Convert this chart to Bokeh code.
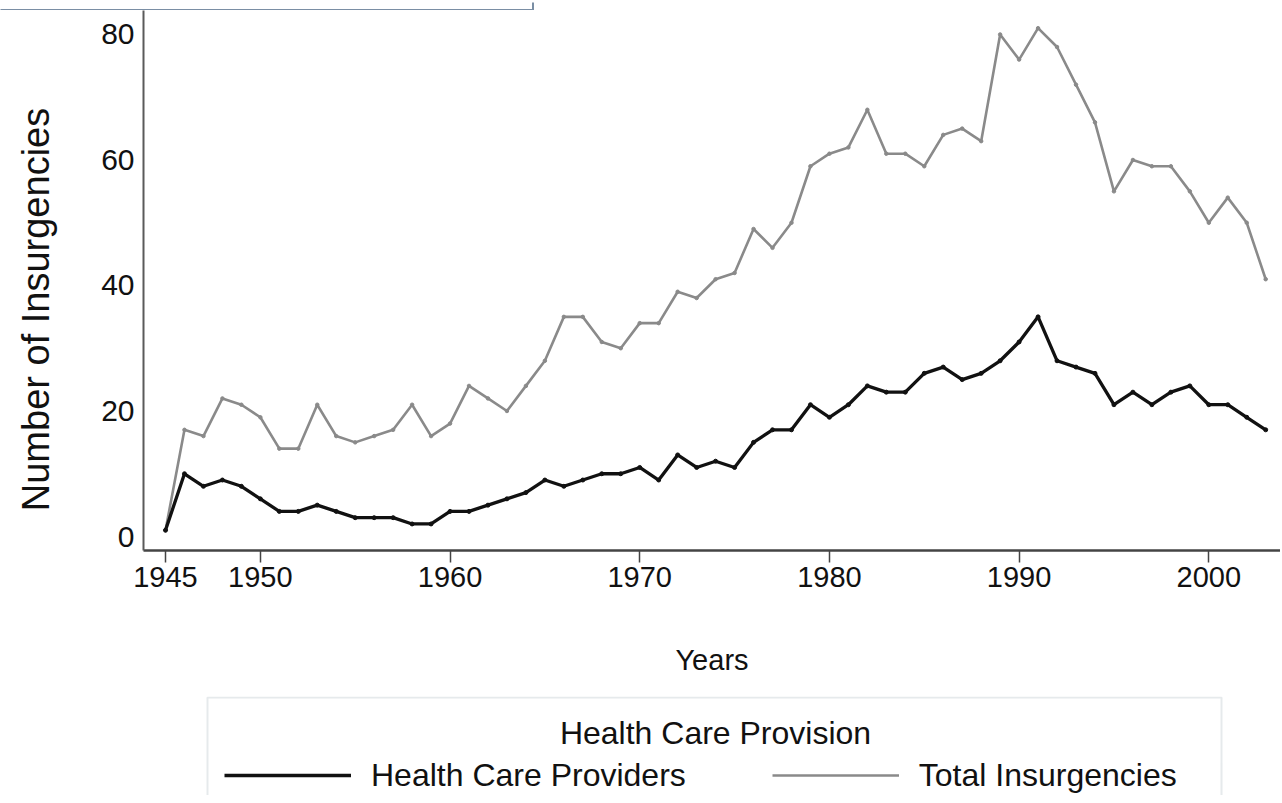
import math
from bokeh.plotting import figure
from bokeh.models import Range1d, FixedTicker, Legend, LegendItem, Label, BoxAnnotation
from bokeh.layouts import column, row
from bokeh.embed import file_html
from bokeh.resources import INLINE

years = list(range(1945, 2004))
total_insurgencies = [1, 17, 16, 22, 21, 19, 14, 14, 21, 16,
                      15, 16, 17, 21, 16, 18, 24, 22, 20, 24,
                      28, 35, 35, 31, 30, 34, 34, 39, 38, 41,
                      42, 49, 46, 50, 59, 61, 62, 68, 61, 61,
                      59, 64, 65, 63, 80, 76, 81, 78, 72, 66,
                      55, 60, 59, 59, 55, 50, 54, 50, 41]
health_care_providers = [1, 10, 8, 9, 8, 6, 4, 4, 5, 4,
                         3, 3, 3, 2, 2, 4, 4, 5, 6, 7,
                         9, 8, 9, 10, 10, 11, 9, 13, 11, 12,
                         11, 15, 17, 17, 21, 19, 21, 24, 23, 23,
                         26, 27, 25, 26, 28, 31, 35, 28, 27, 26,
                         21, 23, 21, 23, 24, 21, 21, 19, 17]
x_ticks = [1945, 1950, 1960, 1970, 1980, 1990, 2000]
y_ticks = [0, 20, 40, 60, 80]
x_title = "Years"
y_title = "Number of Insurgencies"
legend_title = "Health Care Provision"
series_names = ["Health Care Providers", "Total Insurgencies"]

FONT = "Liberation Sans"
GREY = "#8a8a8a"
BLACK = "#111111"
TXT = "#111111"


def blank(width, height):
    f = figure(width=width, height=height, output_backend="svg", toolbar_location=None,
               x_range=Range1d(0, width), y_range=Range1d(0, height),
               x_axis_type=None, y_axis_type=None,
               min_border=0, min_border_left=0, min_border_right=0,
               min_border_top=0, min_border_bottom=0)
    f.outline_line_color = None
    f.grid.visible = False
    return f


# strip at the top: bottom/right edge of a cropped box on the source page
top = blank(1280, 10)
top.add_layout(BoxAnnotation(left=-20, right=532.5, top=40, bottom=2.5,
                             left_units="screen", right_units="screen",
                             top_units="screen", bottom_units="screen",
                             fill_alpha=0, line_color="#7a8ea4", line_alpha=1.0,
                             line_width=2))

# y-axis title column (its frame is aligned with the main chart frame)
ylab = blank(70, 686)
ylab.add_layout(Label(x=35, y=241, x_units="screen", y_units="screen", text=y_title,
                      angle=math.pi / 2, text_align="center", text_baseline="middle",
                      text_font=FONT, text_font_size="38px", text_color=TXT))

# main chart
p = figure(width=1210, height=686, output_backend="svg", toolbar_location=None,
           x_range=Range1d(1943.84, 2003.78), y_range=Range1d(-2.23, 83.82),
           min_border_left=73, min_border_right=0, min_border_top=0,
           min_border_bottom=146)
p.outline_line_color = None
p.grid.visible = False

p.line(years, total_insurgencies, line_color=GREY, line_width=2.6)
p.scatter(years, total_insurgencies, size=3.5, color=GREY)
p.line(years, health_care_providers, line_color=BLACK, line_width=3.3)
p.scatter(years, health_care_providers, size=4, color=BLACK)

xa = p.xaxis[0]
xa.ticker = FixedTicker(ticks=x_ticks)
xa.minor_tick_line_color = None
xa.major_tick_in = 0
xa.major_tick_out = 12
xa.major_tick_line_color = "#444444"
xa.major_tick_line_width = 1.5
xa.axis_line_color = "#444444"
xa.axis_line_width = 2.5
xa.major_label_text_font = FONT
xa.major_label_text_font_size = "29px"
xa.major_label_text_color = TXT
xa.major_label_standoff = 4
xa.axis_label = x_title
xa.axis_label_text_font = FONT
xa.axis_label_text_font_size = "29px"
xa.axis_label_text_font_style = "normal"
xa.axis_label_text_color = TXT
xa.axis_label_standoff = 54

ya = p.yaxis[0]
ya.ticker = FixedTicker(ticks=y_ticks)
ya.minor_tick_line_color = None
ya.major_tick_in = 0
ya.major_tick_out = 0
ya.axis_line_color = "#5a5a5a"
ya.axis_line_width = 2
ya.major_label_text_font = FONT
ya.major_label_text_font_size = "30px"
ya.major_label_text_color = TXT
ya.major_label_standoff = 9

# legend panel
lg = blank(1280, 99)
lg.add_layout(BoxAnnotation(left=207, right=1221, top=98, bottom=-20,
                            left_units="screen", right_units="screen",
                            top_units="screen", bottom_units="screen",
                            fill_alpha=0, line_color="#e6eaec", line_alpha=1.0,
                            line_width=2))
lg.add_layout(Label(x=715, y=63, x_units="screen", y_units="screen", text=legend_title,
                    text_align="center", text_baseline="middle",
                    text_font=FONT, text_font_size="32px", text_color=TXT))
# legend proxies: same series, lying outside this panel's visible range
k_hcp = lg.line(years, health_care_providers, line_color=BLACK, line_width=3.3)
k_tot = lg.line(years, total_insurgencies, line_color=GREY, line_width=2.6)
legend = Legend(items=[LegendItem(label=series_names[0], renderers=[k_hcp]),
                       LegendItem(label=series_names[1], renderers=[k_tot])],
                orientation="horizontal", location=(224, 0),
                glyph_width=127, glyph_height=40, label_height=40,
                label_standoff=20, spacing=86, padding=0, margin=0,
                label_text_font=FONT, label_text_font_size="32px",
                label_text_color=TXT,
                background_fill_alpha=0, border_line_alpha=0)
lg.add_layout(legend)

layout = column(top, row(ylab, p), lg)
open("out.html", "w").write(file_html(layout, INLINE))
